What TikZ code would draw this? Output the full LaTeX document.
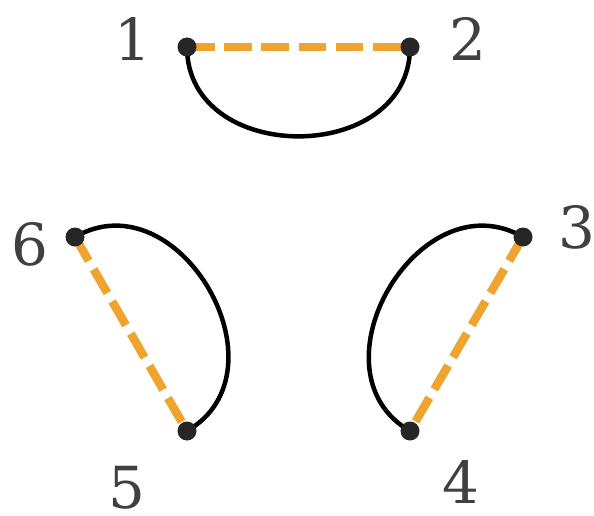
\documentclass[tikz,border=0pt]{standalone}
\usepackage{fontspec}
\setmainfont{DejaVu Serif}
\usetikzlibrary{calc, positioning}

\definecolor{pairorange}{HTML}{F0A430}
\definecolor{dotgray}{HTML}{262626}
\definecolor{labelgray}{HTML}{404040}

\tikzset{
  pairline/.style={pairorange, line width=8.5pt, dash pattern=on 27.5pt off 9.7pt},
  arcline/.style={black, line width=4.5pt, looseness=1.37},
  numlabel/.style={labelgray, font=\fontsize{58}{60}\selectfont, inner sep=0pt}
}

\begin{document}
\begin{tikzpicture}[x=1pt, y=1pt]
\useasboundingbox (0,0) rectangle (594,515);
\def\dotr{9.5}

\coordinate (p1) at (187,468);
\coordinate (p2) at (410,468);
\coordinate (p3) at (523,278);
\coordinate (p4) at (410,84);
\coordinate (p5) at (187,84);
\coordinate (p6) at (75,278);

\node[numlabel] (l1) at (133,476) {1};
\node[numlabel] (l2) at (468,476) {2};
\node[numlabel] (l3) at (577,288) {3};
\node[numlabel] (l4) at (461,33) {4};
\node[numlabel] (l5) at (127,27) {5};
\node[numlabel] (l6) at (30,271) {6};

\draw[pairline] (p1) -- (p2);
\draw[pairline] (p3) -- (p4);
\draw[pairline] (p6) -- (p5);

\draw[arcline] (p1) to[out=-90, in=-90] (p2);
\draw[arcline] (p4) to[out=150, in=150] (p3);
\draw[arcline] (p6) to[out=30, in=30] (p5);

\foreach \p in {p1,p2,p3,p4,p5,p6}
  \fill[dotgray] (\p) circle (\dotr);
\end{tikzpicture}
\end{document}
